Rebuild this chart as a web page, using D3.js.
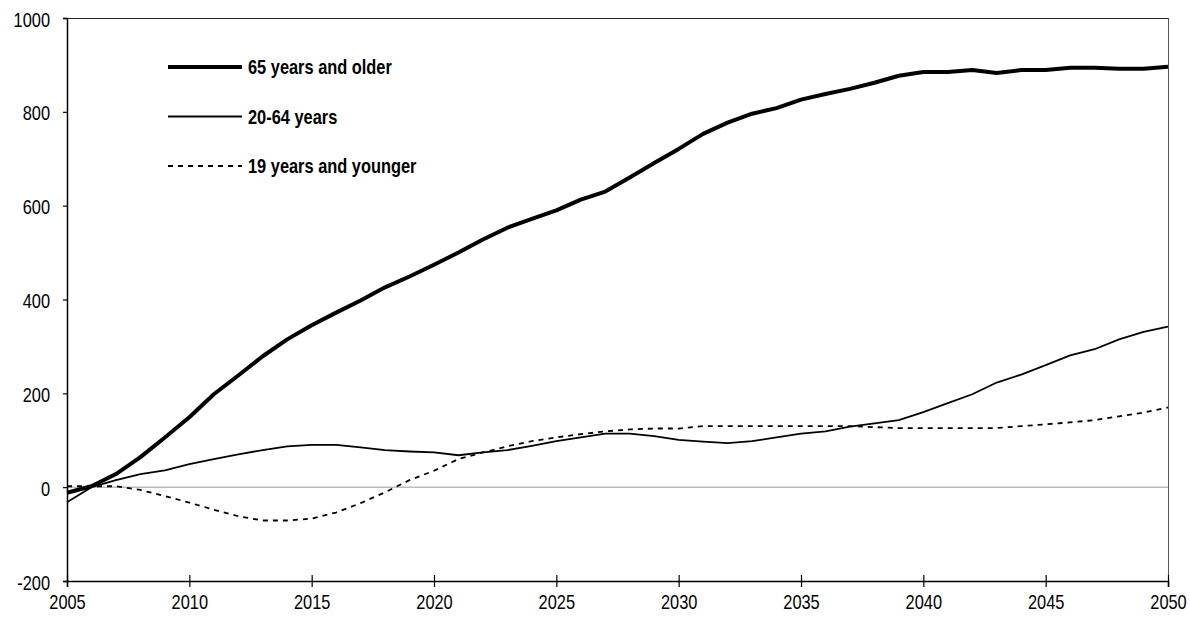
<!DOCTYPE html>
<html>
<head>
<meta charset="utf-8">
<script src="https://cdn.jsdelivr.net/npm/d3@7"></script>
<style>
  body { margin: 0; background: #fff; }
  svg text { font-family: "Liberation Sans", Arial, sans-serif; fill: #000; }
</style>
</head>
<body>
<svg id="chart" width="1190" height="619"></svg>
<script>
// data
var years = d3.range(2005, 2051);

var older65 = [-12, 2, 28, 64, 106, 149, 198, 238, 279, 315, 345, 372, 398, 426, 449, 474,
  500, 528, 553, 572, 590, 613, 630, 660, 691, 721, 753, 777, 796, 808, 826,
  838, 849, 862, 877, 885, 885, 889, 883, 889, 889, 894, 894, 892, 892, 896];

var working = [-32, 0, 15, 28, 36, 49, 60, 70, 79, 87, 90, 90, 85, 79, 76, 74,
  68, 74, 79, 88, 98, 106, 114, 114, 109, 101, 97, 94, 98, 106, 114,
  119, 129, 136, 143, 160, 179, 198, 223, 240, 260, 281, 294, 315, 331, 342];

var young = [2, 2, 2, -6, -19, -33, -48, -62, -71, -71, -67, -54, -34, -11, 15, 35,
  60, 74, 87, 98, 106, 113, 119, 123, 125, 125, 130, 130, 130, 130, 130,
  130, 130, 128, 126, 126, 126, 126, 126, 130, 134, 138, 143, 151, 159, 170];

var seriesNames = ["65 years and older", "20-64 years", "19 years and younger"];
var yTicks = [-200, 0, 200, 400, 600, 800, 1000];
var xTicks = [2005, 2010, 2015, 2020, 2025, 2030, 2035, 2040, 2045, 2050];

var margin = { top: 18, right: 22, bottom: 38, left: 67 };
var width = 1190 - margin.left - margin.right;
var height = 619 - margin.top - margin.bottom;
var narrow = 0.82; // squeeze text to look like a condensed face

var svg = d3.select("#chart")
  .append("g")
  .attr("transform", `translate(${margin.left}, ${margin.top})`);

var x = d3.scaleLinear().domain([2005, 2050]).range([0, width]);
var y = d3.scaleLinear().domain([-200, 1000]).range([height, 0]);

// frame: top and right
svg.append("line").attr("x1", 0).attr("x2", width).attr("y1", 0.5).attr("y2", 0.5)
  .attr("stroke", "#222").attr("stroke-width", 1.2);
svg.append("line").attr("x1", width + 0.5).attr("x2", width + 0.5).attr("y1", 0).attr("y2", height)
  .attr("stroke", "#555").attr("stroke-width", 1);

// zero line
svg.append("line").attr("x1", 0).attr("x2", width)
  .attr("y1", y(0)).attr("y2", y(0))
  .attr("stroke", "#9a9a9a").attr("stroke-width", 1);

// axes
var yAxis = svg.append("g")
  .call(d3.axisLeft(y).tickValues(yTicks).tickFormat(d => String(d)).tickSize(4).tickPadding(13));
var xAxis = svg.append("g")
  .attr("transform", `translate(0, ${height})`)
  .call(d3.axisBottom(x).tickValues(xTicks).tickFormat(d => String(d)).tickSize(6).tickPadding(8));

[yAxis, xAxis].forEach(function(g) {
  g.select(".domain").attr("stroke", "#000").attr("stroke-width", 1.5);
  g.selectAll(".tick line").attr("stroke", "#000").attr("stroke-width", 1.2);
  g.selectAll(".tick text").style("font-size", "20px").attr("fill", "#000");
});
// x ticks cross the axis
xAxis.selectAll(".tick line").attr("y1", -6);

// condense tick labels horizontally around their anchor
yAxis.selectAll(".tick text").each(function() {
  var t = d3.select(this);
  var tx = +t.attr("x");
  t.attr("x", 0).attr("dy", "0.4em").attr("transform", `translate(${tx}, 0) scale(${narrow}, 1)`);
});
xAxis.selectAll(".tick text").each(function() {
  var t = d3.select(this);
  var ty = +t.attr("y");
  t.attr("y", 0).attr("transform", `translate(0, ${ty}) scale(${narrow}, 1)`);
});

var line = d3.line()
  .x(function(d, i) { return x(years[i]); })
  .y(function(d) { return y(d); });

var styles = [
  { w: 4, dash: null },
  { w: 1.8, dash: null },
  { w: 1.8, dash: "5,5" }
];
var data = [older65, working, young];

svg.selectAll(".line")
  .data(data)
  .enter()
  .append("path")
  .attr("class", "line")
  .attr("d", function(d) { return line(d); })
  .style("fill", "none")
  .style("stroke", "#000")
  .style("stroke-width", function(d, i) { return styles[i].w; })
  .style("stroke-dasharray", function(d, i) { return styles[i].dash; })
  .style("stroke-linejoin", "round");

// legend
var legend = svg.append("g").attr("transform", "translate(101, 49)");
seriesNames.forEach(function(name, i) {
  var row = legend.append("g").attr("transform", `translate(0, ${i * 49.5})`);
  row.append("line")
    .attr("x1", 0).attr("x2", 74).attr("y1", 0).attr("y2", 0)
    .attr("stroke", "#000")
    .attr("stroke-width", styles[i].w)
    .attr("stroke-dasharray", styles[i].dash);
  row.append("text")
    .attr("transform", `translate(80, 0) scale(${narrow}, 1)`)
    .attr("dy", "0.35em")
    .style("font-size", "20px")
    .style("font-weight", "bold")
    .text(name);
});
</script>
</body>
</html>
